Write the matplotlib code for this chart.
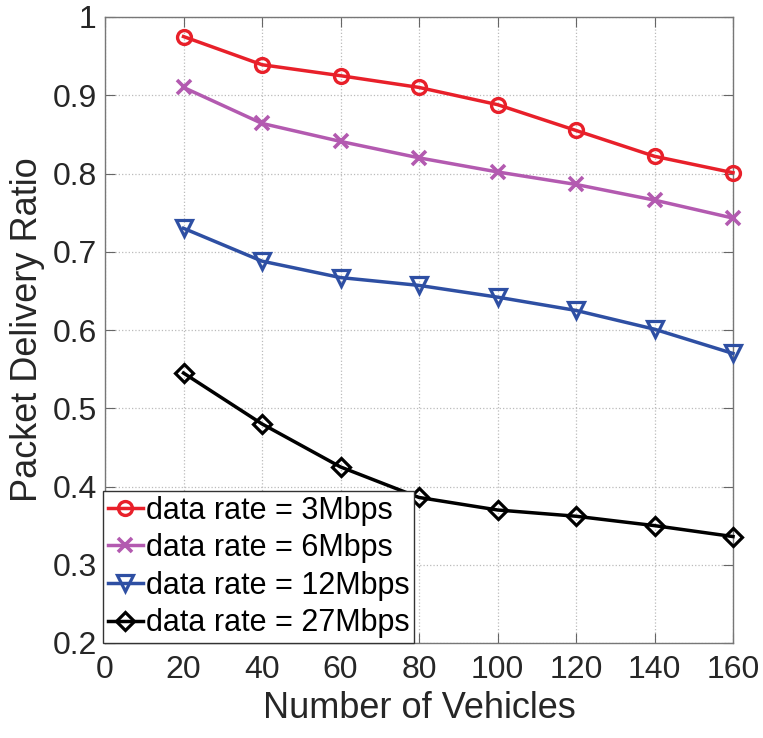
import matplotlib
matplotlib.use("Agg")
import matplotlib.pyplot as plt

plt.rcParams['font.family'] = ['Liberation Sans', 'DejaVu Sans']

vehicles = [20, 40, 60, 80, 100, 120, 140, 160]
pdr_3 = [0.975, 0.939, 0.925, 0.910, 0.888, 0.855, 0.822, 0.801]
pdr_6 = [0.910, 0.864, 0.841, 0.820, 0.802, 0.786, 0.766, 0.743]
pdr_12 = [0.730, 0.688, 0.667, 0.657, 0.642, 0.625, 0.601, 0.570]
pdr_27 = [0.545, 0.480, 0.425, 0.386, 0.370, 0.362, 0.350, 0.336]
labels = ['data rate = 3Mbps', 'data rate = 6Mbps', 'data rate = 12Mbps', 'data rate = 27Mbps']
xticks = [0, 20, 40, 60, 80, 100, 120, 140, 160]
yticks = [0.2, 0.3, 0.4, 0.5, 0.6, 0.7, 0.8, 0.9, 1.0]
yticklabels = ['0.2', '0.3', '0.4', '0.5', '0.6', '0.7', '0.8', '0.9', '1']

W, H = 763, 738
fig = plt.figure(figsize=(W/100, H/100), dpi=100)
L, R, T, B = 105, 733, 17, 643
ax = fig.add_axes([L/W, 1-B/H, (R-L)/W, (B-T)/H])

ax.plot(vehicles, pdr_3, color='#e8202a', lw=2.5, marker='o', ms=10, mfc='none', mew=2.4, label=labels[0], clip_on=False, zorder=5)
ax.plot(vehicles, pdr_6, color='#b35ab0', lw=2.5, marker='x', ms=10, mew=2.6, label=labels[1], clip_on=False, zorder=5)
ax.plot(vehicles, pdr_12, color='#2e4fa3', lw=2.5, marker='v', ms=11, mfc='none', mew=2.3, label=labels[2], clip_on=False, zorder=5)
ax.plot(vehicles, pdr_27, color='black', lw=2.5, marker='D', ms=9, mfc='none', mew=2.3, label=labels[3], clip_on=False, zorder=5)

ax.set_xlim(0, 160)
ax.set_ylim(0.2, 1.0)
ax.set_xticks(xticks)
ax.set_yticks(yticks)
ax.set_yticklabels(yticklabels)
ax.tick_params(direction='in', top=True, right=True, labelsize=23, length=7, color='#666666',
               labelcolor='#262626', pad=6)
ax.tick_params(axis='x', pad=9)
for s in ax.spines.values():
    s.set_color('#777777')
    s.set_linewidth(1.0)
ax.grid(True, linestyle=':', color='#bbbbbb', lw=0.9)
ax.set_axisbelow(True)

ax.set_xlabel('Number of Vehicles', fontsize=26, labelpad=4, color='#262626')
ax.set_ylabel('Packet Delivery Ratio', fontsize=26, labelpad=5, color='#262626')

leg = ax.legend(loc='lower left', bbox_to_anchor=(-0.003, 0.0), fontsize=22, frameon=True, fancybox=False,
                edgecolor='#333333', handlelength=1.15, handletextpad=0.1, borderpad=0.15, labelspacing=0.25,
                borderaxespad=0.0, framealpha=1)
leg.get_frame().set_linewidth(1.0)

fig.savefig('out.png', dpi=100)
